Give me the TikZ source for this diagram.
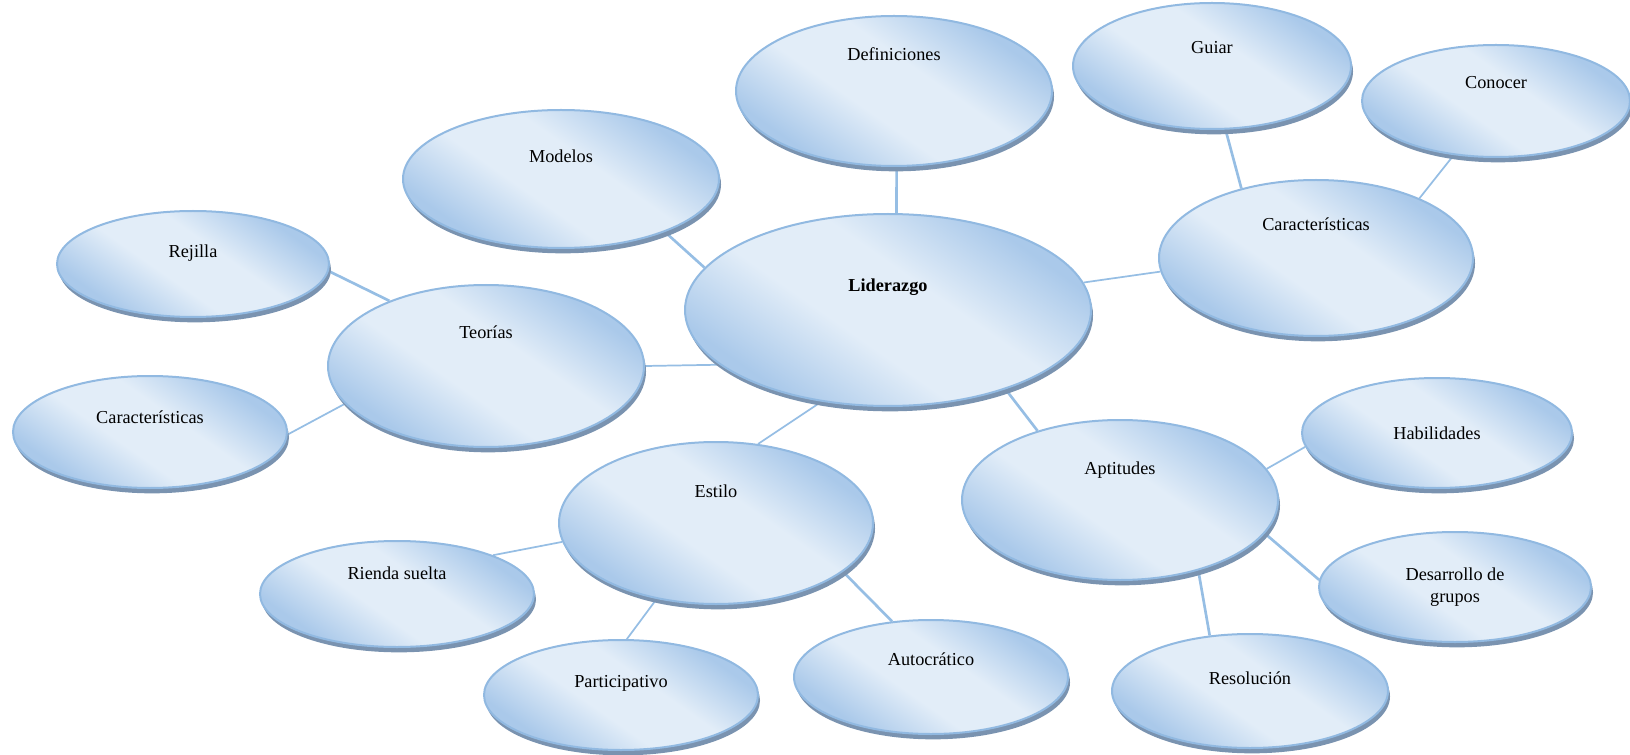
\documentclass[tikz,border=0pt]{standalone}
\usepackage{fontspec}
\setmainfont{Liberation Serif}
\usetikzlibrary{shapes.geometric,shadows,backgrounds}
\definecolor{bubdark}{RGB}{170,201,234}
\definecolor{bublight}{RGB}{226,237,248}
\definecolor{bubline}{RGB}{145,185,225}
\definecolor{bubshadow}{RGB}{122,147,176}
\definecolor{linkblue}{RGB}{150,190,228}
\definecolor{linkgray}{RGB}{125,145,168}
\pgfdeclareverticalshading{bubshade}{100bp}{color(0bp)=(bubdark); color(27bp)=(bubdark);
  color(43bp)=(bublight); color(57bp)=(bublight); color(73bp)=(bubdark); color(100bp)=(bubdark)}
\tikzset{
  bubble/.style={ellipse, draw=bubline, line width=1.5pt, inner sep=0pt,
    shade, shading=bubshade, shading angle=-35,
    drop shadow={shadow xshift=1.5pt, shadow yshift=-4pt, fill=bubshadow, opacity=1},
    font=\fontsize{13.7}{16}\selectfont, align=center},
  lift/.style={text height=0pt, text depth=#1},
  link/.style={draw=linkblue, line width=2pt,
    preaction={draw=linkgray, line width=2pt, transform canvas={xshift=0.5pt, yshift=-0.8pt}}},
  dlink/.style={draw=linkblue, line width=1.3pt,
    preaction={draw=linkgray, line width=1.3pt, transform canvas={xshift=1.6pt, yshift=-3.4pt}}}
}
\begin{document}
\begin{tikzpicture}[x=0.75pt,y=-0.75pt]
\useasboundingbox (0,0) rectangle (1630,755);
\node[bubble, minimum width=237pt, minimum height=112.5pt, lift=45pt] (def) at (894,91) {Definiciones};
\node[bubble, minimum width=208.5pt, minimum height=94.5pt, lift=18pt] (gui) at (1212,66) {Guiar};
\node[bubble, minimum width=201pt, minimum height=84pt, lift=18pt] (con) at (1496,101) {Conocer};
\node[bubble, minimum width=237pt, minimum height=103.5pt, lift=24pt] (mod) at (561,179) {Modelos};
\node[bubble, minimum width=204pt, minimum height=79.5pt, lift=9pt] (rej) at (193,264) {Rejilla};
\node[bubble, minimum width=304.5pt, minimum height=144pt, lift=27pt] (lid) at (888,310) {\bfseries Liderazgo};
\node[bubble, minimum width=235.5pt, minimum height=117pt, lift=40.5pt] (carR) at (1316,258) {Características};
\node[bubble, minimum width=237pt, minimum height=121.5pt, lift=40.5pt] (teo) at (486,366) {Teorías};
\node[bubble, minimum width=205.5pt, minimum height=84pt, lift=13.5pt] (carL) at (150,432) {Características};
\node[bubble, minimum width=235.5pt, minimum height=121.5pt, lift=39pt] (est) at (716,523) {Estilo};
\node[bubble, minimum width=237pt, minimum height=120pt, lift=39pt] (apt) at (1120,500) {Aptitudes};
\node[bubble, minimum width=202.5pt, minimum height=82.5pt] (hab) at (1437,433) {Habilidades};
\node[bubble, minimum width=204pt, minimum height=82.5pt] (des) at (1455,587) {Desarrollo de\\grupos};
\node[bubble, minimum width=205.5pt, minimum height=79.5pt, lift=22.5pt] (rie) at (397,594) {Rienda suelta};
\node[bubble, minimum width=205.5pt, minimum height=82.5pt, lift=12pt] (par) at (621,695) {Participativo};
\node[bubble, minimum width=205.5pt, minimum height=85.5pt, lift=18pt] (aut) at (931,677) {Autocrático};
\node[bubble, minimum width=207pt, minimum height=85.5pt, lift=10.5pt] (res) at (1250,691) {Resolución};
\begin{pgfonlayer}{background}
\path[link] (def.-88) edge (lid.85);
\path[link] (mod.-27) edge (lid.167);
\path[link] (gui.-78) edge (carR.137);
\path[dlink] (con.-128) edge (carR.30);
\path[dlink] (lid.8) edge (carR.-175);
\path[dlink] (teo.0) edge (lid.-162);
\path[link] (rej.-3) edge (teo.146);
\path[dlink] (carL.-1) edge (teo.-165);
\path[dlink] (lid.-126) edge (est.62);
\path[link] (lid.-34) edge (apt.140);
\path[dlink] (apt.12) edge (hab.-174);
\path[link] (apt.-13) edge (des.177);
\path[link] (apt.-42) edge (res.126);
\path[dlink] (est.-173) edge (rie.22);
\path[dlink] (est.-128) edge (par.84);
\path[link] (est.-21) edge (aut.125);
\end{pgfonlayer}
\end{tikzpicture}
\end{document}
